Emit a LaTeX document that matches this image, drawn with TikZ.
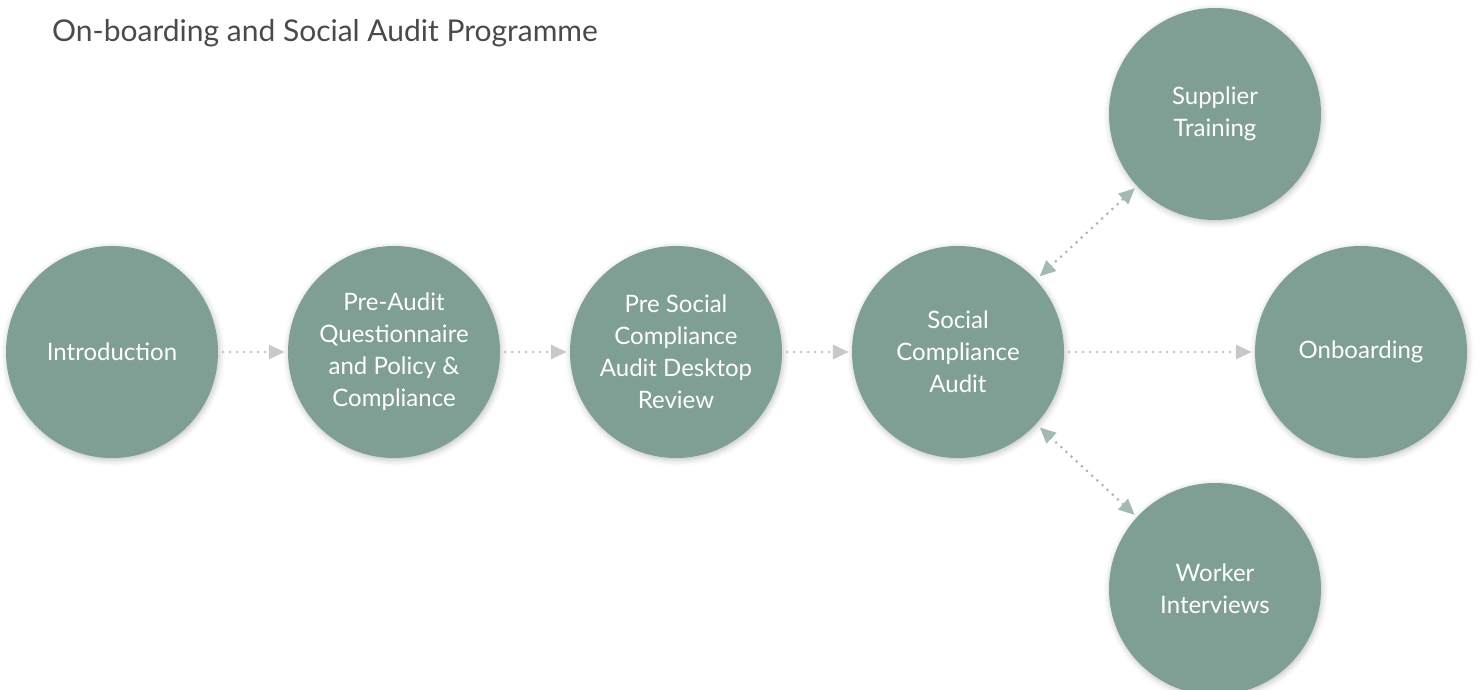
\documentclass[tikz,border=0pt]{standalone}
\usepackage{fontspec}
\setmainfont{Lato}
\usetikzlibrary{positioning,arrows.meta,shadows.blur}
\definecolor{sage}{HTML}{7F9E94}
\definecolor{sagelight}{HTML}{A3BAB2}
\definecolor{dotgrey}{HTML}{C8C8C8}
\definecolor{titlegrey}{HTML}{4A4A4A}
\tikzset{
    stage/.style = {circle,fill=sage,draw=none,text=white,minimum size=212pt,inner sep=0pt,align=center,
        font=\fontsize{24}{32}\selectfont,
        blur shadow={shadow xshift=1pt,shadow yshift=-2pt,shadow blur radius=6pt,shadow opacity=25}},
    flow/.style = {dotgrey,line width=3pt,line cap=round,dash pattern=on 0pt off 7pt,
        -{Triangle[length=16pt,width=14pt]},shorten <=5pt,shorten >=3pt},
    link/.style = {sagelight,line width=3pt,line cap=round,dash pattern=on 0pt off 7pt,
        {Triangle[length=16pt,width=14pt]}-{Triangle[length=16pt,width=14pt]},shorten <=5pt,shorten >=3pt},
    heading/.style = {anchor=base west,text=titlegrey,inner sep=0pt,font=\fontsize{30}{36}\selectfont}
}
\begin{document}
\begin{tikzpicture}[x=1pt,y=1pt,node distance=282pt]
    \useasboundingbox (0,0) rectangle (1477,690);
    \node[heading] (title) at (52,648) {On-boarding and Social Audit Programme};

    %% main line
    \node[stage]  (intro)    at (112,338)         {Introduction};
    \node[stage]  (preaudit) [right of=intro]     {Pre-Audit\\Questionnaire\\and Policy \&\\Compliance};
    \node[stage]  (desktop)  [right of=preaudit]  {Pre Social\\Compliance\\Audit Desktop\\Review};
    \node[stage]  (audit)    [right of=desktop]   {Social\\Compliance\\Audit};
    \node[stage]  (onboard)  [right of=audit,node distance=403pt] {Onboarding};

    %% branches
    \node[stage]  (training) [right of=audit,node distance=257pt,yshift=238pt]  {Supplier\\Training};
    \node[stage]  (workers)  [right of=audit,node distance=257pt,yshift=-237pt] {Worker\\Interviews};

    \draw[flow] (intro) -- (preaudit);
    \draw[flow] (preaudit) -- (desktop);
    \draw[flow] (desktop) -- (audit);
    \draw[flow] (audit) -- (onboard);

    \draw[link] (audit) -- (training);
    \draw[link] (audit) -- (workers);
\end{tikzpicture}
\end{document}
